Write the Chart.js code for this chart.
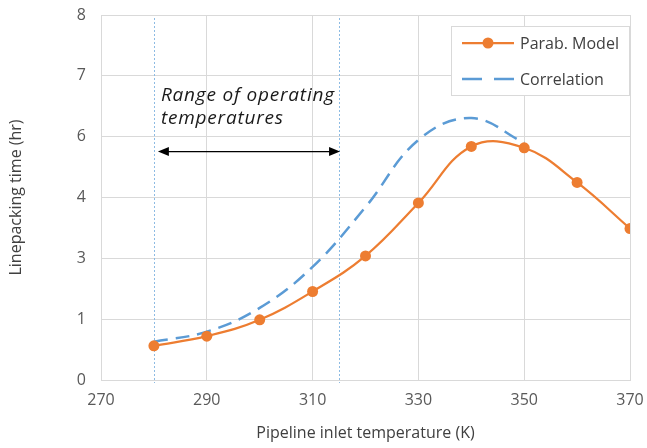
<!DOCTYPE html>
<html>
<head>
<meta charset="utf-8">
<script src="https://cdn.jsdelivr.net/npm/chart.js@4/dist/chart.umd.min.js"></script>
<style>
  html, body { margin: 0; padding: 0; background: #fff; }
  #wrap { width: 647px; height: 448px; }
</style>
</head>
<body>
<div id="wrap"><canvas id="chart1"></canvas></div>
<script>
// temperatures (K)
var modelTemps = [280, 290, 300, 310, 320, 330, 340, 350, 360, 370];
var modelTimes = [0.75, 0.96, 1.32, 1.94, 2.72, 3.88, 5.12, 5.09, 4.33, 3.32];

var corrTemps = [280, 290, 300, 310, 320, 330, 340, 350];
var corrTimes = [0.84, 1.06, 1.58, 2.48, 3.79, 5.26, 5.74, 5.20];

// y axis labels as printed (6 equal intervals from 0 to 8)
var yTickLabels = ['0', '1', '3', '4', '6', '7', '8'];
var xTicks = [270, 290, 310, 330, 350, 370];

// operating range markers
var rangeLines = [280, 315];
var arrowLevel = 5.02;
var rangeText = ['Range of operating', 'temperatures'];

var orange = '#ED7D31';
var blue = '#5B9BD5';
var gridCol = '#d9d9d9';
var txtCol = '#595959';

function toXY(xs, ys) {
  return xs.map(function (x, i) { return { x: x, y: ys[i] }; });
}

var extras = {
  id: 'extras',
  beforeDatasetsDraw: function (chart) {
    var ctx = chart.ctx, xs = chart.scales.x, area = chart.chartArea;
    ctx.save();
    ctx.strokeStyle = '#8DBBE3';
    ctx.lineWidth = 1;
    ctx.setLineDash([2, 2]);
    rangeLines.forEach(function (t) {
      var px = Math.round(xs.getPixelForValue(t)) + 0.5;
      ctx.beginPath();
      ctx.moveTo(px, area.top + 3);
      ctx.lineTo(px, area.bottom + 3);
      ctx.stroke();
    });
    ctx.restore();
  },
  afterDatasetsDraw: function (chart) {
    var ctx = chart.ctx, xs = chart.scales.x, ys = chart.scales.y;
    var x1 = xs.getPixelForValue(rangeLines[0]) + 4;
    var x2 = xs.getPixelForValue(rangeLines[1]) + 1;
    var y = Math.round(ys.getPixelForValue(arrowLevel)) + 0.5;
    ctx.save();
    ctx.strokeStyle = '#000';
    ctx.fillStyle = '#000';
    ctx.lineWidth = 1.25;
    ctx.beginPath();
    ctx.moveTo(x1 + 8, y);
    ctx.lineTo(x2 - 8, y);
    ctx.stroke();
    ctx.beginPath();
    ctx.moveTo(x1, y); ctx.lineTo(x1 + 11, y - 4.5); ctx.lineTo(x1 + 11, y + 4.5); ctx.closePath();
    ctx.fill();
    ctx.beginPath();
    ctx.moveTo(x2, y); ctx.lineTo(x2 - 11, y - 4.5); ctx.lineTo(x2 - 11, y + 4.5); ctx.closePath();
    ctx.fill();

    // annotation text
    ctx.font = 'italic 19px "Open Sans"';
    ctx.letterSpacing = '0.8px';
    ctx.fillStyle = '#1a1a1a';
    ctx.textBaseline = 'middle';
    ctx.textAlign = 'left';
    ctx.fillText(rangeText[0], x1 + 3, y - 56);
    ctx.fillText(rangeText[1], x1 + 3, y - 33);
    ctx.letterSpacing = '0px';

    // legend box
    var area = chart.chartArea;
    var lx = 451, ly = 26, lw = area.right - lx, lh = 70;
    ctx.fillStyle = '#fff';
    ctx.fillRect(lx, ly, lw, lh);
    ctx.strokeStyle = gridCol;
    ctx.lineWidth = 1;
    ctx.strokeRect(lx + 0.5, ly + 0.5, lw - 1, lh - 1);

    ctx.font = '16px "Open Sans"';
    var ds = chart.data.datasets;
    // row 1
    var r1 = ly + 17;
    ctx.strokeStyle = ds[0].borderColor;
    ctx.lineWidth = 2.25;
    ctx.beginPath(); ctx.moveTo(462, r1); ctx.lineTo(514, r1); ctx.stroke();
    ctx.fillStyle = ds[0].borderColor;
    ctx.beginPath(); ctx.arc(488, r1, 5.5, 0, Math.PI * 2); ctx.fill();
    ctx.fillStyle = '#404040';
    ctx.fillText(ds[0].label, 520, r1 + 1);
    // row 2
    var r2 = ly + 53;
    ctx.strokeStyle = ds[1].borderColor;
    ctx.lineWidth = 2.5;
    ctx.setLineDash([20, 12]);
    ctx.beginPath(); ctx.moveTo(462, r2); ctx.lineTo(514, r2); ctx.stroke();
    ctx.setLineDash([]);
    ctx.fillText(ds[1].label, 520, r2 + 1);
    ctx.restore();
  }
};

var ch1 = document.getElementById('chart1').getContext('2d');
var chart1 = new Chart(ch1, {
  type: 'line',
  data: {
    datasets: [{
      label: 'Parab. Model',
      data: toXY(modelTemps, modelTimes),
      borderColor: orange,
      backgroundColor: orange,
      borderWidth: 2.25,
      pointRadius: 5.5,
      pointBackgroundColor: orange,
      pointBorderWidth: 0,
      tension: 0.4,
      fill: false
    }, {
      label: 'Correlation',
      data: toXY(corrTemps, corrTimes),
      borderColor: blue,
      backgroundColor: blue,
      borderWidth: 2.5,
      borderDash: [14, 8],
      pointRadius: 0,
      tension: 0.4,
      fill: false
    }]
  },
  options: {
    responsive: true,
    maintainAspectRatio: false,
    animation: false,
    layout: { padding: { left: 0, right: 17, top: 15, bottom: 0 } },
    plugins: {
      legend: { display: false },
      tooltip: { enabled: false }
    },
    scales: {
      x: {
        type: 'linear',
        min: 270,
        max: 370,
        afterBuildTicks: function (s) { s.ticks = xTicks.map(function (v) { return { value: v }; }); },
        afterFit: function (s) { s.height = 68; s.paddingLeft = 0; s.paddingRight = 0; },
        grid: { color: gridCol, lineWidth: 1, drawTicks: false },
        border: { color: gridCol, width: 1 },
        ticks: { color: txtCol, font: { family: 'Open Sans', size: 16 }, padding: 11, maxRotation: 0 },
        title: {
          display: true,
          text: 'Pipeline inlet temperature (K)',
          color: '#404040',
          font: { family: 'Open Sans', size: 16 },
          padding: { top: 0, bottom: 5 }
        }
      },
      y: {
        type: 'linear',
        min: 0,
        max: 8,
        afterBuildTicks: function (s) {
          s.ticks = yTickLabels.map(function (l, i) { return { value: i * 8 / 6 }; });
        },
        afterFit: function (s) { s.width = 101; s.paddingTop = 0; s.paddingBottom = 0; },
        grid: { color: gridCol, lineWidth: 1, drawTicks: false },
        border: { color: gridCol, width: 1 },
        ticks: {
          color: txtCol,
          font: { family: 'Open Sans', size: 16 },
          padding: 15,
          callback: function (v, i) { return yTickLabels[i]; }
        },
        title: {
          display: true,
          text: 'Linepacking time (hr)',
          color: '#404040',
          font: { family: 'Open Sans', size: 16 },
          padding: { top: 7, bottom: 0 }
        }
      }
    }
  },
  plugins: [extras]
});
</script>
</body>
</html>
